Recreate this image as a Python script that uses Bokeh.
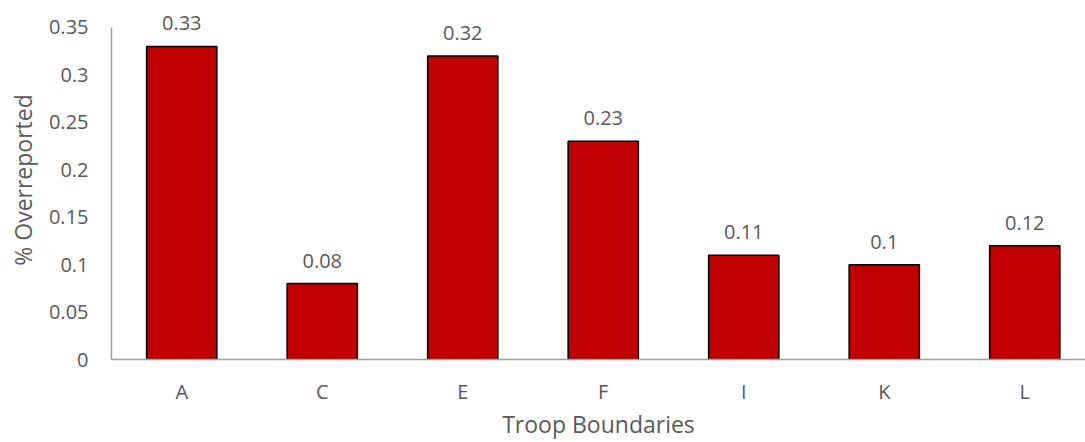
from bokeh.plotting import figure
from bokeh.models import FixedTicker, ColumnDataSource
from bokeh.core.properties import value
from bokeh.embed import file_html
from bokeh.resources import INLINE

categories = ["A", "C", "E", "F", "I", "K", "L"]
overreported = [0.33, 0.08, 0.32, 0.23, 0.11, 0.10, 0.12]
y_ticks = [0, 0.05, 0.1, 0.15, 0.2, 0.25, 0.3, 0.35]
y_tick_labels = ["0", "0.05", "0.1", "0.15", "0.2", "0.25", "0.3", "0.35"]
x_title = "Troop Boundaries"
y_title = "% Overreported"

xs = list(range(len(categories)))
src = ColumnDataSource(dict(x=xs, y=overreported,
                            lbl=[("%g" % v) for v in overreported]))

FONT = "Open Sans"
GREY = "#595959"

p = figure(width=1085, height=442, output_backend="svg", toolbar_location=None,
           x_range=(-0.5, -0.5 + 974 / 140.5), y_range=(0, 359 / 948.6),
           min_border_left=111, min_border_right=0, min_border_top=0,
           min_border_bottom=83)
p.outline_line_color = None
p.grid.grid_line_color = None

p.vbar(x="x", top="y", width=0.5, source=src, fill_color="#C00000",
       line_color="black", line_width=1.5)
p.text(x="x", y="y", text="lbl", source=src, text_align="center",
       text_baseline="alphabetic", y_offset=-23, text_font=value(FONT),
       text_font_size="20px", text_color=GREY)

ya = p.yaxis[0]
ya.ticker = FixedTicker(ticks=y_ticks)
ya.major_label_overrides = {t: l for t, l in zip(y_ticks, y_tick_labels)}
ya.bounds = (0, 0.35)
ya.axis_line_color = "#a0a0a0"
ya.axis_line_width = 1.5
ya.major_tick_line_color = None
ya.minor_tick_line_color = None
ya.major_label_standoff = 17
ya.major_label_text_font = FONT
ya.major_label_text_font_size = "20px"
ya.major_label_text_color = GREY
ya.axis_label = y_title
ya.axis_label_text_font = FONT
ya.axis_label_text_font_size = "23px"
ya.axis_label_text_font_style = "normal"
ya.axis_label_text_color = GREY
ya.axis_label_standoff = 7

xa = p.xaxis[0]
xa.ticker = FixedTicker(ticks=xs)
xa.major_label_overrides = {i: c for i, c in zip(xs, categories)}
xa.axis_line_color = "#a0a0a0"
xa.axis_line_width = 1.5
xa.major_tick_line_color = None
xa.minor_tick_line_color = None
xa.major_label_standoff = 12
xa.major_label_text_font = FONT
xa.major_label_text_font_size = "20px"
xa.major_label_text_line_height = 1.0
xa.major_label_text_color = GREY
xa.axis_label = x_title
xa.axis_label_text_font = FONT
xa.axis_label_text_font_size = "23px"
xa.axis_label_text_line_height = 1.0
xa.axis_label_text_font_style = "normal"
xa.axis_label_text_color = GREY
xa.axis_label_standoff = 0

open("out.html", "w").write(file_html(p, INLINE))
